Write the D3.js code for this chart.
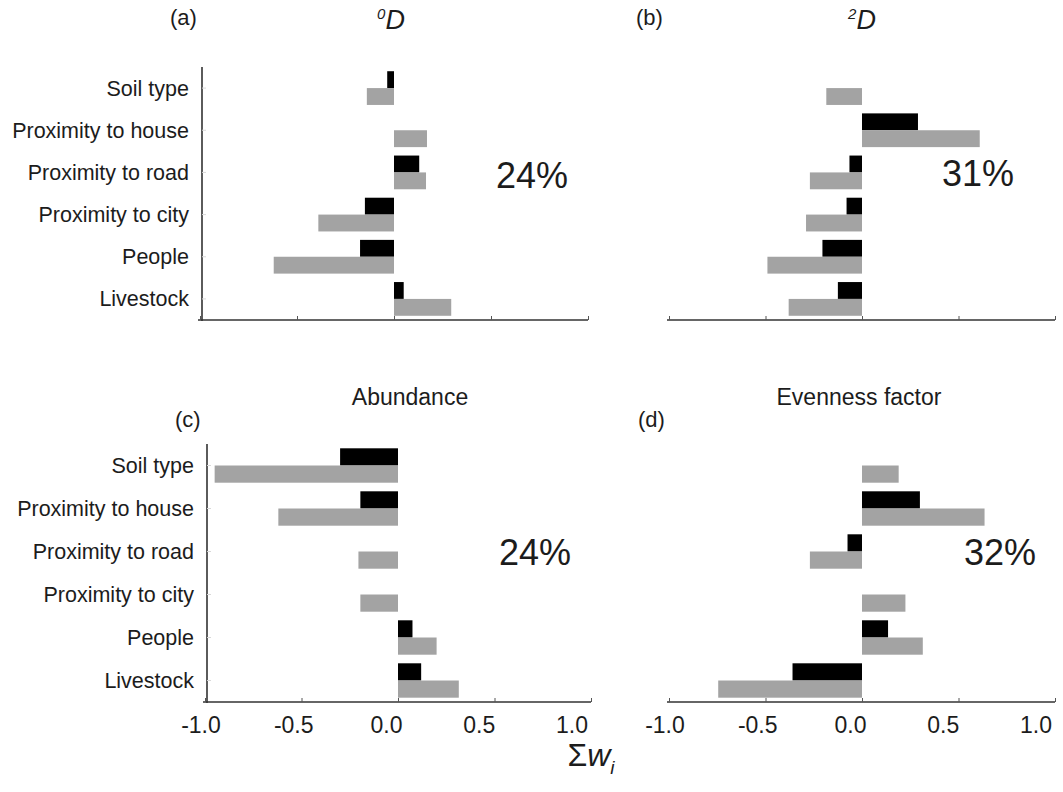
<!DOCTYPE html>
<html>
<head>
<meta charset="utf-8">
<script src="https://cdn.jsdelivr.net/npm/d3@7"></script>
<style>
  html, body { margin: 0; padding: 0; background: #fff; }
  svg { display: block; font-family: "Liberation Sans", Arial, sans-serif; }
</style>
</head>
<body>
<svg id="chart" width="1063" height="792"></svg>
<script>
// ---- data ----
const categories = ["Soil type", "Proximity to house", "Proximity to road", "Proximity to city", "People", "Livestock"];
const tickValues = [-1.0, -0.5, 0.0, 0.5, 1.0];
const tickLabels = ["-1.0", "-0.5", "0.0", "0.5", "1.0"];

const aBlack = [-0.035, 0, 0.13, -0.15, -0.175, 0.05];
const aGray  = [-0.14, 0.17, 0.165, -0.39, -0.62, 0.295];
const bBlack = [0, 0.29, -0.065, -0.08, -0.205, -0.125];
const bGray  = [-0.185, 0.61, -0.27, -0.29, -0.49, -0.38];
const cBlack = [-0.30, -0.195, 0, 0, 0.075, 0.12];
const cGray  = [-0.95, -0.62, -0.205, -0.195, 0.20, 0.315];
const dBlack = [0, 0.30, -0.075, 0, 0.135, -0.36];
const dGray  = [0.19, 0.635, -0.27, 0.225, 0.315, -0.745];

const panelLetters = ["(a)", "(b)", "(c)", "(d)"];
const percents = ["24%", "31%", "24%", "32%"];

// ---- layout ----
const svg = d3.select("#chart");
const BLACK = "#000000", GRAY = "#a3a3a3", INK = "#1c1c1c";

const panels = [
  { black: aBlack, gray: aGray, x0: 200, x1: 588, y0: 67, y1: 320, yAxis: true, labels: true, tickText: false,
    letter: panelLetters[0], lx: 170, ly: 25, pct: percents[0], px: 532, py: 188 },
  { black: bBlack, gray: bGray, x0: 669, x1: 1055, y0: 67, y1: 320, yAxis: false, labels: false, tickText: false,
    letter: panelLetters[1], lx: 636, ly: 25, pct: percents[1], px: 978, py: 186 },
  { black: cBlack, gray: cGray, x0: 205, x1: 591, y0: 444, y1: 702, yAxis: true, labels: true, tickText: true,
    letter: panelLetters[2], lx: 175, ly: 427, pct: percents[2], px: 535, py: 565 },
  { black: dBlack, gray: dGray, x0: 669, x1: 1055, y0: 444, y1: 702, yAxis: false, labels: false, tickText: true,
    letter: panelLetters[3], lx: 638, ly: 427, pct: percents[3], px: 1000, py: 565 }
];

panels.forEach(p => {
  const g = svg.append("g");
  const x = d3.scaleLinear().domain([-1, 1]).range([p.x0, p.x1]);
  const y = d3.scaleBand().domain(categories).range([p.y0, p.y1]).paddingInner(0.2).paddingOuter(0.1);
  const half = y.bandwidth() / 2;

  // black bars (upper half of band)
  g.selectAll("rect.blk").data(categories).join("rect")
    .attr("class", "blk")
    .attr("x", (c, i) => x(Math.min(0, p.black[i])))
    .attr("width", (c, i) => Math.abs(x(p.black[i]) - x(0)))
    .attr("y", c => y(c))
    .attr("height", half)
    .attr("fill", BLACK);

  // gray bars (lower half of band)
  g.selectAll("rect.gry").data(categories).join("rect")
    .attr("class", "gry")
    .attr("x", (c, i) => x(Math.min(0, p.gray[i])))
    .attr("width", (c, i) => Math.abs(x(p.gray[i]) - x(0)))
    .attr("y", c => y(c) + half)
    .attr("height", half)
    .attr("fill", GRAY);

  // x axis
  const xAxis = d3.axisBottom(x).tickValues(tickValues).tickSize(-4).tickFormat("");
  const xa = g.append("g").attr("transform", `translate(0,${p.y1})`).call(xAxis);
  xa.select(".domain").attr("stroke", "#333").attr("stroke-width", 1.6).attr("d", `M${p.x0 - 2},0H${p.x1}`);
  xa.selectAll(".tick line").attr("stroke", "#555").attr("stroke-width", 1);

  if (p.tickText) {
    const xl = d3.scaleLinear().domain([-1, 1]).range([x(-1) - 4, x(1) - 19]);
    g.selectAll("text.tl").data(tickValues).join("text")
      .attr("class", "tl")
      .attr("x", v => xl(v))
      .attr("y", p.y1 + 31)
      .attr("text-anchor", "middle")
      .attr("font-size", 23)
      .attr("fill", INK)
      .text((v, i) => tickLabels[i]);
  }

  if (p.yAxis) {
    const yAxis = d3.axisLeft(y).tickSize(-4).tickFormat("");
    const ya = g.append("g").attr("transform", `translate(${p.x0 + 2},0)`).call(yAxis);
    ya.select(".domain").attr("stroke", "#333").attr("stroke-width", 1.6).attr("d", `M0,${p.y0}V${p.y1 + 1}`);
    ya.selectAll(".tick line").attr("stroke", "#d8d8d8");
  }

  if (p.labels) {
    g.selectAll("text.cat").data(categories).join("text")
      .attr("class", "cat")
      .attr("x", p.x0 - 11)
      .attr("y", c => y(c) + half)
      .attr("dy", "0.35em")
      .attr("text-anchor", "end")
      .attr("font-size", 21.5)
      .attr("fill", INK)
      .text(c => c);
  }

  // panel letter
  g.append("text").attr("x", p.lx).attr("y", p.ly)
    .attr("font-size", 22).attr("fill", INK).text(p.letter);

  // percentage
  g.append("text").attr("x", p.px).attr("y", p.py)
    .attr("text-anchor", "middle").attr("font-size", 36).attr("fill", INK).text(p.pct);
});

// titles
function dTitle(cx, sup) {
  const t = svg.append("text").attr("x", cx).attr("y", 29).attr("text-anchor", "middle")
    .attr("fill", INK).attr("font-size", 27).attr("font-style", "italic");
  t.append("tspan").attr("font-size", 15).attr("dy", -10).text(sup);
  t.append("tspan").attr("dy", 10).text("D");
}
dTitle(391, "0");
dTitle(862, "2");

svg.append("text").attr("x", 410).attr("y", 405).attr("text-anchor", "middle")
  .attr("font-size", 23).attr("fill", INK).text("Abundance");
svg.append("text").attr("x", 859).attr("y", 405).attr("text-anchor", "middle")
  .attr("font-size", 23).attr("fill", INK).text("Evenness factor");

// x-axis title: Σw_i
const xt = svg.append("text").attr("x", 591).attr("y", 766).attr("text-anchor", "middle")
  .attr("font-size", 32).attr("fill", INK);
xt.append("tspan").text("Σ");
xt.append("tspan").attr("font-style", "italic").text("w");
xt.append("tspan").attr("font-style", "italic").attr("font-size", 19).attr("dy", 8).text("i");
</script>
</body>
</html>
